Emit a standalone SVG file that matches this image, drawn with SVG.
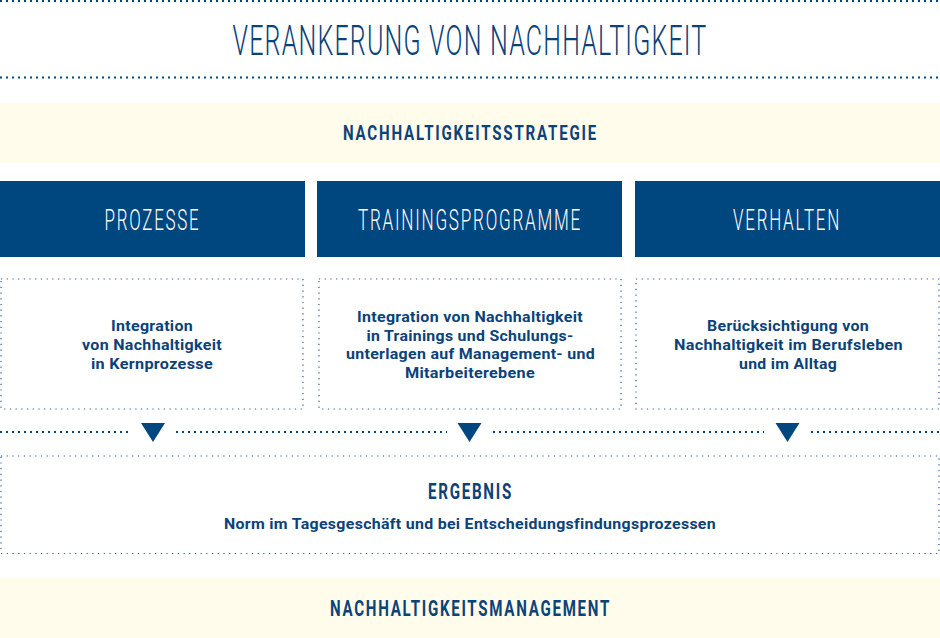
<svg xmlns="http://www.w3.org/2000/svg" width="940" height="638" viewBox="0 0 940 638">
<style>
  .band { fill: #FFFCEC; }
  .blue { fill: #00467F; }
  .sep { stroke: #00467F; stroke-width: 2; stroke-dasharray: 2 4; fill: none; }
  .box { stroke: #2E5C8E; stroke-width: 1.2; stroke-dasharray: 1.2 4.5; fill: none; }
  .tri { fill: #00467F; }
  .title { font-family: Roboto, "Liberation Sans", sans-serif; font-weight: 300; fill: #0B4278; text-anchor: middle; letter-spacing: 2px; }
  .label { font-family: Roboto, "Liberation Sans", sans-serif; font-weight: 300; fill: #FFFFFF; text-anchor: middle; font-size: 29px; letter-spacing: 3px; }
  .head { font-family: Roboto, "Liberation Sans", sans-serif; font-weight: 700; fill: #0B4278; text-anchor: middle; letter-spacing: 2.5px; }
  .body { font-family: Roboto, "Liberation Sans", sans-serif; font-weight: 700; fill: #0B4278; text-anchor: middle; font-size: 15.5px; letter-spacing: 0.3px; }
</style>

<g id="header">
  <line class="sep" x1="0" y1="1" x2="940" y2="1"/>
  <text class="title" transform="translate(470,55) scale(0.59,1)" x="0" y="0" font-size="42" textLength="805" lengthAdjust="spacingAndGlyphs">VERANKERUNG VON NACHHALTIGKEIT</text>
  <line class="sep" x1="0" y1="77.5" x2="940" y2="77.5"/>
</g>

<g id="strategie">
  <rect class="band" x="0" y="103" width="940" height="60"/>
  <text class="head" x="470.5" y="140" font-size="21" textLength="255" lengthAdjust="spacingAndGlyphs">NACHHALTIGKEITSSTRATEGIE</text>
</g>

<g id="prozesse">
  <rect class="blue" x="0" y="181" width="305" height="76"/>
  <text class="label" x="152.5" y="230" textLength="96" lengthAdjust="spacingAndGlyphs">PROZESSE</text>
</g>
<g id="trainingsprogramme">
  <rect class="blue" x="317" y="181" width="305" height="76"/>
  <text class="label" x="470" y="230" textLength="224" lengthAdjust="spacingAndGlyphs">TRAININGSPROGRAMME</text>
</g>
<g id="verhalten">
  <rect class="blue" x="635" y="181" width="305" height="76"/>
  <text class="label" x="787" y="230" textLength="108" lengthAdjust="spacingAndGlyphs">VERHALTEN</text>
</g>

<g id="prozesse-detail">
  <rect class="box" x="1" y="279" width="302" height="130"/>
  <text class="body" x="152" y="331" textLength="82" lengthAdjust="spacingAndGlyphs">Integration</text>
  <text class="body" x="152" y="350" textLength="140" lengthAdjust="spacingAndGlyphs">von Nachhaltigkeit</text>
  <text class="body" x="152" y="369" textLength="122" lengthAdjust="spacingAndGlyphs">in Kernprozesse</text>
</g>
<g id="trainings-detail">
  <rect class="box" x="319" y="279" width="302" height="130"/>
  <text class="body" x="470" y="322" textLength="226" lengthAdjust="spacingAndGlyphs">Integration von Nachhaltigkeit</text>
  <text class="body" x="470" y="340.5" textLength="207" lengthAdjust="spacingAndGlyphs">in Trainings und Schulungs-</text>
  <text class="body" x="470.5" y="359" textLength="249" lengthAdjust="spacingAndGlyphs">unterlagen auf Management- und</text>
  <text class="body" x="470" y="377.5" textLength="130" lengthAdjust="spacingAndGlyphs">Mitarbeiterebene</text>
</g>
<g id="verhalten-detail">
  <rect class="box" x="636" y="279" width="303" height="130"/>
  <text class="body" x="788" y="331" textLength="162" lengthAdjust="spacingAndGlyphs">Berücksichtigung von</text>
  <text class="body" x="788.5" y="350" textLength="229" lengthAdjust="spacingAndGlyphs">Nachhaltigkeit im Berufsleben</text>
  <text class="body" x="788" y="369" textLength="98" lengthAdjust="spacingAndGlyphs">und im Alltag</text>
</g>

<g id="connectors">
  <line class="sep" x1="0" y1="432" x2="130" y2="432"/>
  <line class="sep" x1="176" y1="432" x2="447" y2="432"/>
  <line class="sep" x1="493" y1="432" x2="764" y2="432"/>
  <line class="sep" x1="811" y1="432" x2="940" y2="432"/>
  <polygon class="tri" points="141,423 165,423 153,442"/>
  <polygon class="tri" points="457.5,423 481.5,423 469.5,442"/>
  <polygon class="tri" points="775.5,423 799.5,423 787.5,442"/>
</g>

<g id="ergebnis">
  <rect class="box" x="1" y="456" width="938" height="97.5"/>
  <text class="head" x="470.5" y="499" font-size="22" textLength="85" lengthAdjust="spacingAndGlyphs">ERGEBNIS</text>
  <text class="body" x="470" y="529" textLength="492" lengthAdjust="spacingAndGlyphs">Norm im Tagesgeschäft und bei Entscheidungsfindungsprozessen</text>
</g>

<g id="management">
  <rect class="band" x="0" y="578" width="940" height="60"/>
  <text class="head" x="470.5" y="616" font-size="22" textLength="281" lengthAdjust="spacingAndGlyphs">NACHHALTIGKEITSMANAGEMENT</text>
</g>
</svg>
